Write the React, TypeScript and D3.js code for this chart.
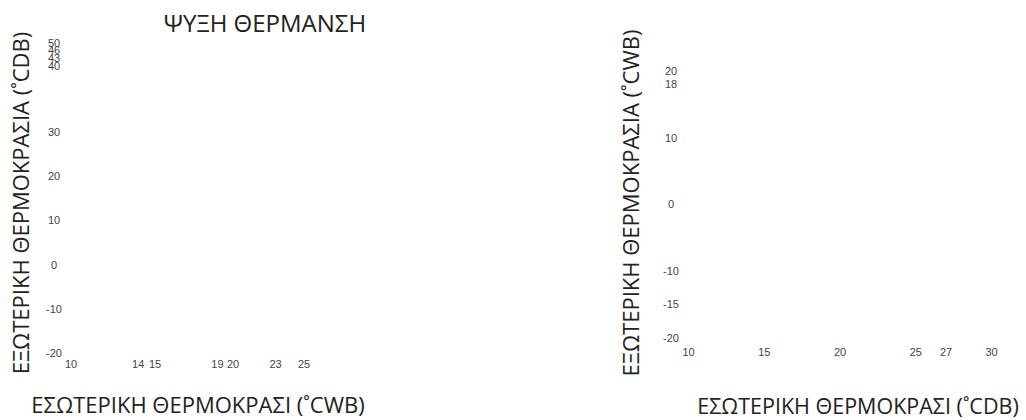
import { scaleLinear } from "d3";

// cooling panel (left)
const coolX = [10, 14, 15, 19, 20, 23, 25];
const coolY = [-20, -10, 0, 10, 20, 30, 40, 43, 46, 50];
// heating panel (right)
const heatX = [10, 15, 20, 25, 27, 30];
const heatY = [-20, -15, -10, 0, 10, 18, 20];

const panelTitle = "ΨΥΞΗ ΘΕΡΜΑΝΣΗ";
const coolXTitle = "ΕΣΩΤΕΡΙΚΗ ΘΕΡΜΟΚΡΑΣΙ (˚CWB)";
const coolYTitle = "ΕΞΩΤΕΡΙΚΗ ΘΕΡΜΟΚΡΑΣΙΑ (˚CDB)";
const heatXTitle = "ΕΣΩΤΕΡΙΚΗ ΘΕΡΜΟΚΡΑΣΙ (˚CDB)";
const heatYTitle = "ΕΞΩΤΕΡΙΚΗ ΘΕΡΜΟΚΡΑΣΙΑ (˚CWB)";

const W = 1026;
const H = 420;
const tickFont = "'Liberation Sans', Arial, sans-serif";
const titleFont = "'Open Sans', 'Noto Sans', sans-serif";

export default function App() {
  // the source graphic is not evenly spaced, so the scales are piecewise
  const xCool = scaleLinear().domain([10, 15, 20, 25]).range([71, 155, 233, 304]);
  const yCool = scaleLinear().domain([-20, 30, 40, 46, 50]).range([353, 132, 66, 50, 42.5]);
  const xHeat = scaleLinear().domain([10, 30]).range([688.5, 991.5]);
  const yHeat = scaleLinear().domain([-20, 20]).range([337.5, 71]);

  return (
    <svg
      width={W}
      height={H}
      style={{ position: "absolute", left: 0, top: 0, background: "#fff" }}
    >
      <text
        x={265}
        y={32}
        textAnchor="middle"
        fontFamily={titleFont}
        fontSize={24}
        fill="#222"
      >
        {panelTitle}
      </text>

      {/* left panel */}
      <g fontFamily={tickFont} fontSize={11} fill="#444" textAnchor="middle">
        {coolY.map((d) => (
          <text key={"cy" + d} x={54} y={yCool(d)} dominantBaseline="central">
            {d}
          </text>
        ))}
        {coolX.map((d) => (
          <text key={"cx" + d} x={xCool(d)} y={364} dominantBaseline="central">
            {d}
          </text>
        ))}
      </g>
      <text
        x={198}
        y={413}
        textAnchor="middle"
        fontFamily={titleFont}
        fontSize={22}
        fill="#222"
      >
        {coolXTitle}
      </text>
      <text
        transform="translate(29,203) rotate(-90)"
        textAnchor="middle"
        fontFamily={titleFont}
        fontSize={22}
        fill="#222"
      >
        {coolYTitle}
      </text>

      {/* right panel */}
      <g fontFamily={tickFont} fontSize={11} fill="#444" textAnchor="middle">
        {heatY.map((d) => (
          <text key={"hy" + d} x={671} y={yHeat(d)} dominantBaseline="central">
            {d}
          </text>
        ))}
        {heatX.map((d) => (
          <text key={"hx" + d} x={xHeat(d)} y={352} dominantBaseline="central">
            {d}
          </text>
        ))}
      </g>
      <text
        x={858}
        y={414}
        textAnchor="middle"
        fontFamily={titleFont}
        fontSize={21.5}
        fill="#222"
      >
        {heatXTitle}
      </text>
      <text
        transform="translate(639,203) rotate(-90)"
        textAnchor="middle"
        fontFamily={titleFont}
        fontSize={22}
        fill="#222"
      >
        {heatYTitle}
      </text>
    </svg>
  );
}
